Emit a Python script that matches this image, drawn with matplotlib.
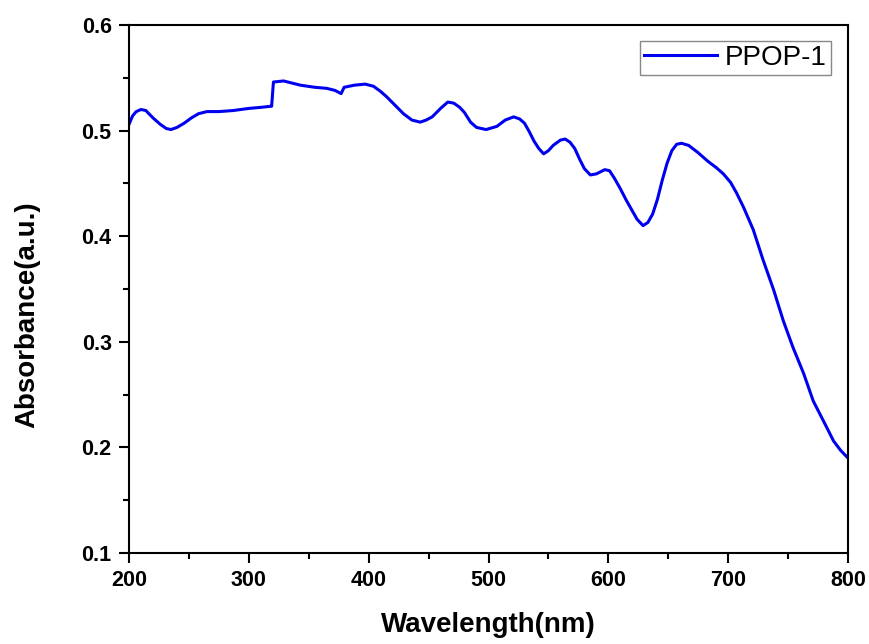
import numpy as np
import matplotlib.pyplot as plt
from matplotlib.ticker import MultipleLocator

# espectro UV-Vis
wavelength = [200, 203, 206, 210, 214, 220, 226, 231, 235, 240, 246, 252, 258, 265,
              275, 287, 300, 310, 318, 319, 320.5, 329, 343, 355, 365, 372, 377, 379.5,
              388, 397, 404, 410, 415, 422, 429, 436, 443, 448, 453, 460, 466, 471,
              476, 480, 485, 490, 498, 507, 514, 521, 526, 530, 534, 538, 542, 546,
              550, 554, 560, 564, 568, 572, 576, 580, 585, 590, 597, 601, 605, 610,
              615, 620, 624, 629, 633, 637, 641, 645, 649, 653, 657, 661, 667, 675,
              683, 690, 696, 702, 707, 713, 721, 729, 738, 746, 754, 763, 771, 780,
              788, 794, 800]
absorbance = [0.506, 0.514, 0.518, 0.520, 0.519, 0.512, 0.506, 0.502, 0.501, 0.503,
              0.507, 0.512, 0.516, 0.518, 0.518, 0.519, 0.521, 0.522, 0.523, 0.523,
              0.546, 0.547, 0.543, 0.541, 0.540, 0.538, 0.535, 0.541, 0.543, 0.544,
              0.542, 0.537, 0.532, 0.524, 0.516, 0.510, 0.508, 0.510, 0.513, 0.521,
              0.527, 0.526, 0.522, 0.517, 0.508, 0.503, 0.501, 0.504, 0.510, 0.513,
              0.511, 0.507, 0.499, 0.490, 0.483, 0.478, 0.481, 0.486, 0.491, 0.492,
              0.489, 0.483, 0.473, 0.464, 0.458, 0.459, 0.463, 0.462, 0.455, 0.445,
              0.434, 0.424, 0.416, 0.410, 0.413, 0.421, 0.435, 0.453, 0.469, 0.481,
              0.487, 0.488, 0.486, 0.479, 0.471, 0.465, 0.459, 0.451, 0.441, 0.427,
              0.406, 0.378, 0.349, 0.320, 0.295, 0.270, 0.244, 0.224, 0.206, 0.197,
              0.190]

plt.rcParams['font.family'] = ['Liberation Sans', 'DejaVu Sans']

fig = plt.figure(figsize=(8.69, 6.44), dpi=100)
ax = fig.add_axes([0.1485, 0.1413, 0.8273, 0.8199])

ax.plot(wavelength, absorbance, color='#0000f0', lw=2.2, label='PPOP-1')

ax.set_xlim(200, 800)
ax.set_ylim(0.1, 0.6)
ax.xaxis.set_major_locator(MultipleLocator(100))
ax.xaxis.set_minor_locator(MultipleLocator(50))
ax.yaxis.set_major_locator(MultipleLocator(0.1))
ax.yaxis.set_minor_locator(MultipleLocator(0.05))
ax.yaxis.set_major_formatter(plt.FormatStrFormatter('%.1f'))

for s in ax.spines.values():
    s.set_linewidth(1.5)
ax.tick_params(which='major', direction='out', length=7.5, width=1.5, labelsize=15.5, pad=5)
ax.tick_params(which='minor', direction='out', length=4.3, width=1.5)
for lbl in ax.get_xticklabels() + ax.get_yticklabels():
    lbl.set_fontweight('bold')

ax.set_xlabel('Wavelength(nm)', fontsize=20, fontweight='bold')
ax.set_ylabel('Absorbance(a.u.)', fontsize=20, fontweight='bold')
ax.xaxis.set_label_coords(0.5, -0.112)
ax.yaxis.set_label_coords(-0.124, 0.452)

leg = ax.legend(loc='upper right', bbox_to_anchor=(0.9764, 0.9697), borderaxespad=0,
                fontsize=20, handlelength=2.6, handletextpad=0.3, borderpad=0.15,
                fancybox=False, framealpha=1)
leg.get_frame().set_edgecolor('#888888')
leg.get_frame().set_linewidth(1.0)

plt.savefig('out.png', dpi=100)
